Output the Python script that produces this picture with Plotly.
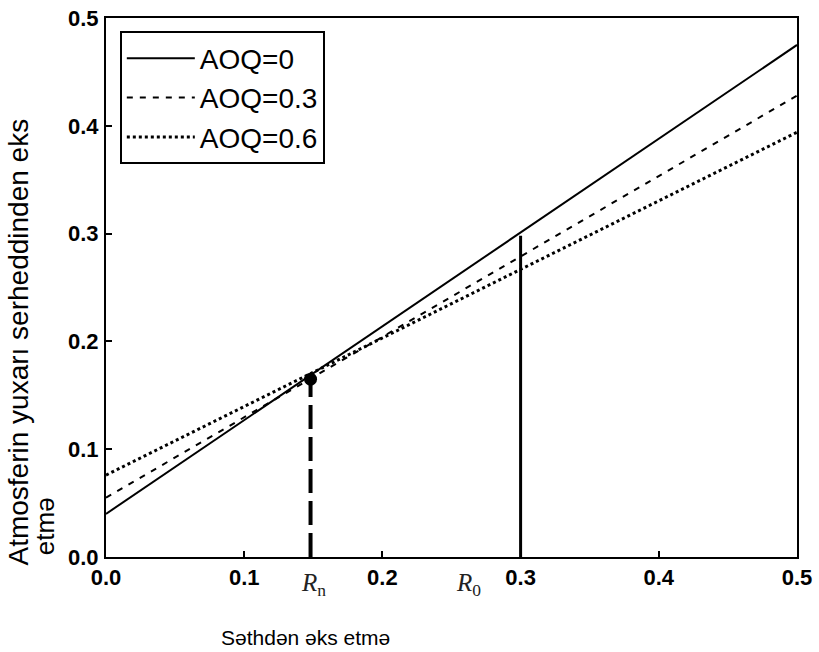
import plotly.graph_objects as go

# Surface reflectance range and top-of-atmosphere reflectance for each aerosol optical depth
surface_refl = [0.0, 0.5]
aoq_labels = ["AOQ=0", "AOQ=0.3", "AOQ=0.6"]
toa_refl = {
    "AOQ=0": [0.040, 0.475],
    "AOQ=0.3": [0.055, 0.428],
    "AOQ=0.6": [0.076, 0.394],
}
line_dashes = {"AOQ=0": "solid", "AOQ=0.3": "6px,7px", "AOQ=0.6": "dot"}
line_widths = {"AOQ=0": 2, "AOQ=0.3": 2, "AOQ=0.6": 3}

# Critical reflectance R_n (curves cross) and reference surface reflectance R_0
r_n = 0.148
r_n_toa = 0.165
r_ref = 0.3
r_ref_toa = 0.298
r_label_x = [0.150, 0.262]
r_label_text = ["<i>R</i><sub>n</sub>", "<i>R</i><sub>0</sub>"]

x_ticks = [0.0, 0.1, 0.2, 0.3, 0.4, 0.5]
y_ticks = [0.0, 0.1, 0.2, 0.3, 0.4, 0.5]

fig = go.Figure()

for i, name in enumerate(aoq_labels):
    fig.add_trace(go.Scatter(
        x=surface_refl, y=toa_refl[name], mode="lines", name=name,
        legendgroup=f"g{i}",
        line=dict(color="black", width=line_widths[name], dash=line_dashes[name]),
    ))

# Vertical marker lines
fig.add_trace(go.Scatter(
    x=[r_n, r_n], y=[0, r_n_toa], mode="lines", showlegend=False,
    line=dict(color="black", width=4, dash="24px,8px"),
))
fig.add_trace(go.Scatter(
    x=[r_ref, r_ref], y=[0, r_ref_toa], mode="lines", showlegend=False,
    line=dict(color="black", width=3),
))
fig.add_trace(go.Scatter(
    x=[r_n], y=[r_n_toa], mode="markers", showlegend=False,
    marker=dict(color="black", size=13),
))

tick_font = dict(family="Liberation Sans", size=22, color="black")
axis_common = dict(
    showline=True, linecolor="black", linewidth=2, mirror=True,
    ticks="inside", ticklen=6, tickwidth=1.5, tickcolor="black",
    showgrid=False, zeroline=False, tickfont=tick_font, automargin=False,
)

fig.update_xaxes(range=[0, 0.5], tickvals=x_ticks,
                 ticktext=[f"<b>{v:.1f}</b>" for v in x_ticks], **axis_common)
fig.update_yaxes(range=[0, 0.5], tickvals=y_ticks,
                 ticktext=[f"<b>{v:.1f}</b>" for v in y_ticks],
                 ticklabelstandoff=1, **axis_common)

for xv, txt in zip(r_label_x, r_label_text):
    fig.add_annotation(x=xv, y=0, xref="x", yref="paper", text=txt,
                       showarrow=False, yanchor="top", yshift=-10,
                       font=dict(family="Liberation Serif", size=25, color="#222"))

fig.add_annotation(x=0.288, xref="paper", y=-0.125, yref="paper",
                   text="Səthdən əks etmə", showarrow=False,
                   xanchor="center", yanchor="top",
                   font=dict(family="Liberation Sans", size=21, color="black"))
fig.add_annotation(x=-0.127, xref="paper", y=-0.02, yref="paper",
                   text="Atmosferin yuxarı serheddinden eks", showarrow=False,
                   textangle=-90, xanchor="center", yanchor="bottom",
                   font=dict(family="Liberation Sans", size=28, color="black"))
fig.add_annotation(x=-0.088, xref="paper", y=0.0, yref="paper",
                   text="etmə", showarrow=False,
                   textangle=-90, xanchor="center", yanchor="bottom",
                   font=dict(family="Liberation Sans", size=26, color="black"))

fig.update_layout(
    width=819, height=652,
    margin=dict(l=106, r=22, t=18, b=95),
    plot_bgcolor="white", paper_bgcolor="white",
    legend=dict(
        x=0.02, y=0.975, xanchor="left", yanchor="top",
        bordercolor="black", borderwidth=2, bgcolor="white",
        font=dict(family="Liberation Sans", size=28, color="black"),
        itemwidth=68, tracegroupgap=0,
    ),
)

fig.write_html("out.html")
